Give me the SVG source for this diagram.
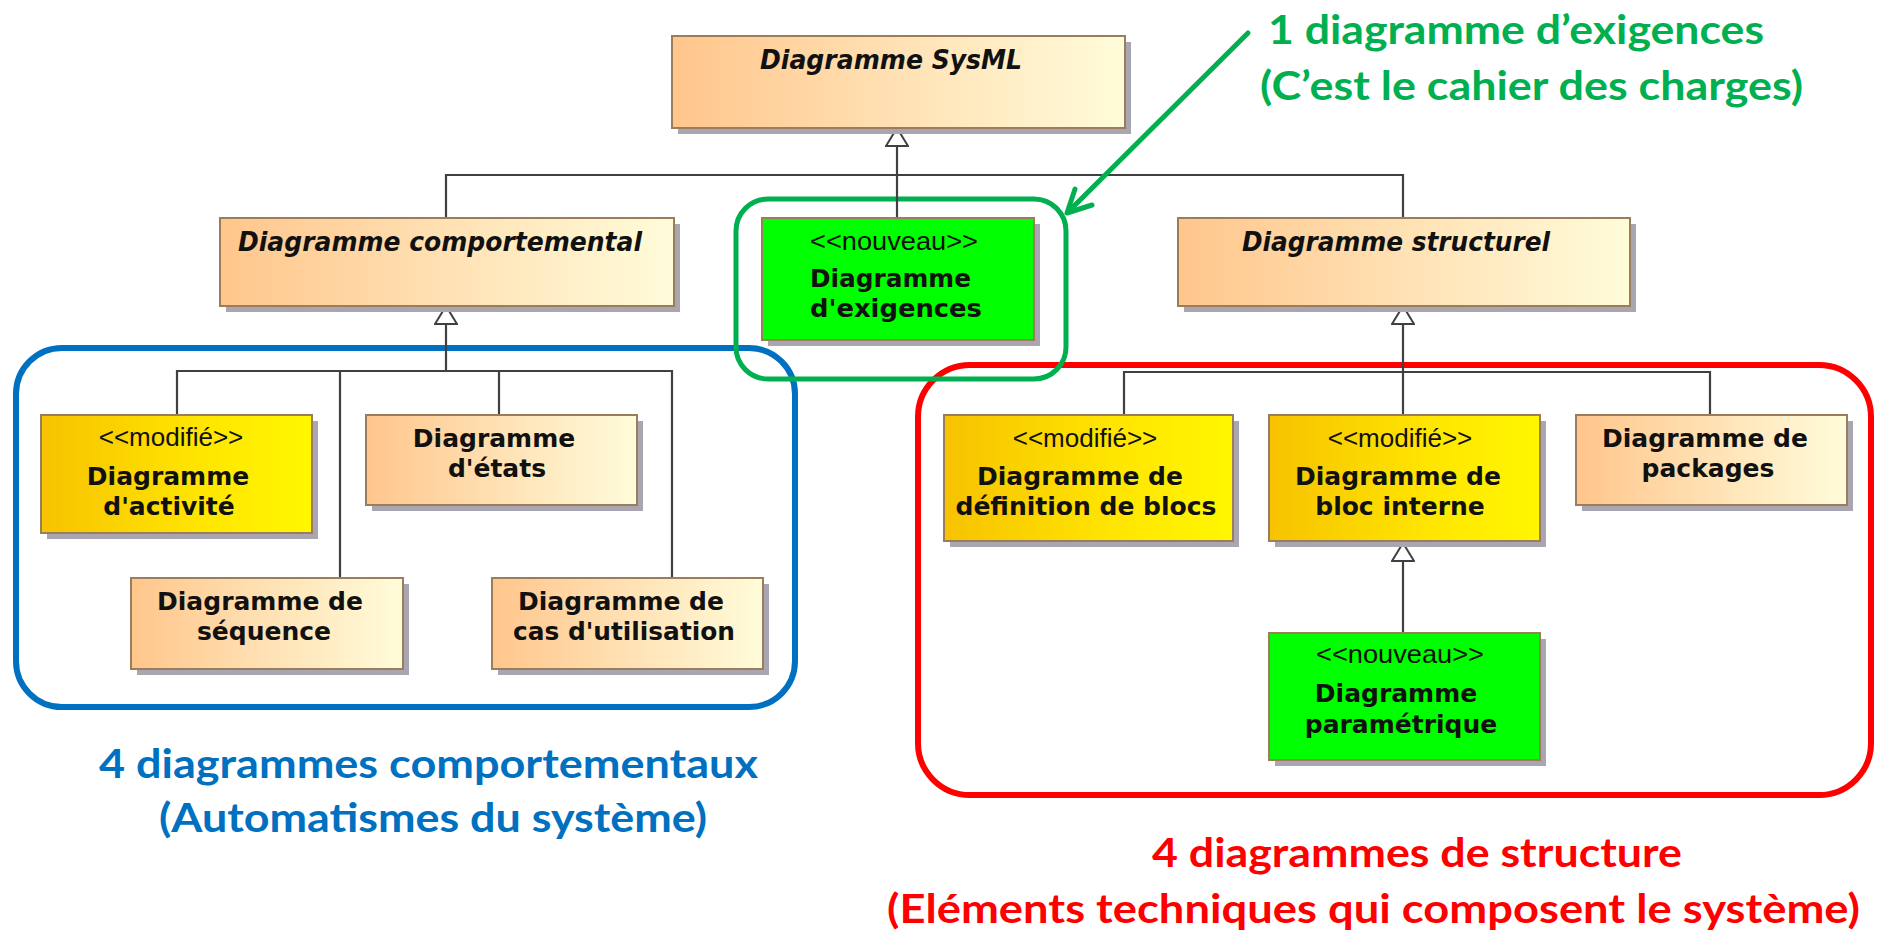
<svg xmlns="http://www.w3.org/2000/svg" width="1877" height="935" viewBox="0 0 1877 935">
  <defs>
    <linearGradient id="peach" x1="0" y1="0" x2="1" y2="0">
      <stop offset="0" stop-color="#FFC68C"/>
      <stop offset="0.55" stop-color="#FFE4B8"/>
      <stop offset="1" stop-color="#FFFCDA"/>
    </linearGradient>
    <linearGradient id="gold" x1="0" y1="0" x2="1" y2="0">
      <stop offset="0" stop-color="#F7C200"/>
      <stop offset="0.6" stop-color="#FFE600"/>
      <stop offset="1" stop-color="#FFF700"/>
    </linearGradient>
    <!-- hollow triangle for generalization links -->
    <marker id="gen" markerUnits="userSpaceOnUse" viewBox="-1 -1 20 24" refX="18" refY="11" markerWidth="20" markerHeight="24" orient="auto">
      <path d="M18,11 L0,0 L0,22 Z" fill="#FFFFFF" stroke="#404040" stroke-width="2" stroke-linejoin="miter"/>
    </marker>
  </defs>
  <style>
    .shadow { fill: #A9A6B2; }
    .box { stroke: #9A7E5C; stroke-width: 2; }
    .peach { fill: url(#peach); }
    .gold { fill: url(#gold); }
    .lime { fill: #00FF00; }
    .abstract { font-family: "DejaVu Sans", "Liberation Sans", sans-serif; font-weight: bold; font-style: italic; font-size: 27px; fill: #111111; text-anchor: middle; }
    .label { font-family: "DejaVu Sans", "Liberation Sans", sans-serif; font-weight: bold; font-size: 25px; fill: #111111; text-anchor: middle; }
    .stereo { font-family: "Liberation Sans", Arial, sans-serif; font-size: 26px; fill: #111111; text-anchor: middle; }
    .link { fill: none; stroke: #404040; stroke-width: 2.2; }
    .frame { fill: none; }
    .note { font-family: Lato, "Open Sans", "Liberation Sans", sans-serif; font-weight: bold; font-size: 40px; }
  </style>

  <rect width="1877" height="935" fill="#FFFFFF"/>

  <!-- grouping frames -->
  <g id="frames">
    <rect class="frame" x="16" y="348" width="779" height="359" rx="46" stroke="#0070C0" stroke-width="6"/>
    <rect class="frame" x="918" y="365" width="953" height="430" rx="52" stroke="#FF0000" stroke-width="6"/>
    <rect class="frame" x="736" y="199" width="330" height="180" rx="32" stroke="#00B050" stroke-width="5"/>
  </g>

  <!-- generalization links -->
  <g id="connectors">
    <path class="link" d="M446,218 V175 H1403 V218"/>
    <path class="link" d="M897,218 V128" marker-end="url(#gen)"/>
    <path class="link" d="M177,415 V371 H672 V578 M340,371 V578 M499,371 V415"/>
    <path class="link" d="M446,371 V306" marker-end="url(#gen)"/>
    <path class="link" d="M1124,415 V372 H1710 V415"/>
    <path class="link" d="M1403,415 V306" marker-end="url(#gen)"/>
    <path class="link" d="M1403,633 V543" marker-end="url(#gen)"/>
    <!-- callout arrow to the requirements diagram -->
    <path d="M1248,33 L1068,212" fill="none" stroke="#00B050" stroke-width="5" stroke-linecap="round"/>
    <path d="M1075,189 L1067,213 L1092,205" fill="none" stroke="#00B050" stroke-width="5" stroke-linecap="round" stroke-linejoin="round"/>
  </g>

  <g id="sysml">
    <rect class="shadow" x="678" y="42" width="453" height="92"/>
    <rect class="box peach" x="672" y="36" width="453" height="92"/>
    <text class="abstract" x="891" y="69" textLength="262" lengthAdjust="spacingAndGlyphs">Diagramme SysML</text>
  </g>

  <g id="comportemental">
    <rect class="shadow" x="226" y="224" width="454" height="88"/>
    <rect class="box peach" x="220" y="218" width="454" height="88"/>
    <text class="abstract" x="440" y="251" textLength="404" lengthAdjust="spacingAndGlyphs">Diagramme comportemental</text>
  </g>

  <g id="exigences">
    <rect class="shadow" x="768" y="224" width="272" height="122"/>
    <rect class="box lime" x="762" y="218" width="272" height="122"/>
    <text class="stereo" x="894" y="250" textLength="168" lengthAdjust="spacingAndGlyphs">&lt;&lt;nouveau&gt;&gt;</text>
    <text class="label" x="810" y="287" style="text-anchor:start" textLength="161" lengthAdjust="spacingAndGlyphs">Diagramme</text>
    <text class="label" x="810" y="317" style="text-anchor:start" textLength="172" lengthAdjust="spacingAndGlyphs">d'exigences</text>
  </g>

  <g id="structurel">
    <rect class="shadow" x="1184" y="224" width="452" height="88"/>
    <rect class="box peach" x="1178" y="218" width="452" height="88"/>
    <text class="abstract" x="1396" y="251" textLength="308" lengthAdjust="spacingAndGlyphs">Diagramme structurel</text>
  </g>

  <g id="activite">
    <rect class="shadow" x="47" y="421" width="271" height="118"/>
    <rect class="box gold" x="41" y="415" width="271" height="118"/>
    <text class="stereo" x="171" y="446">&lt;&lt;modifié&gt;&gt;</text>
    <text class="label" x="168" y="485">Diagramme</text>
    <text class="label" x="169" y="515">d'activité</text>
  </g>

  <g id="etats">
    <rect class="shadow" x="372" y="421" width="271" height="90"/>
    <rect class="box peach" x="366" y="415" width="271" height="90"/>
    <text class="label" x="494" y="447">Diagramme</text>
    <text class="label" x="497" y="477">d'états</text>
  </g>

  <g id="sequence">
    <rect class="shadow" x="137" y="584" width="272" height="91"/>
    <rect class="box peach" x="131" y="578" width="272" height="91"/>
    <text class="label" x="260" y="610">Diagramme de</text>
    <text class="label" x="264" y="640">séquence</text>
  </g>

  <g id="cas-utilisation">
    <rect class="shadow" x="498" y="584" width="271" height="91"/>
    <rect class="box peach" x="492" y="578" width="271" height="91"/>
    <text class="label" x="621" y="610">Diagramme de</text>
    <text class="label" x="624" y="640" textLength="222" lengthAdjust="spacingAndGlyphs">cas d'utilisation</text>
  </g>

  <g id="definition-blocs">
    <rect class="shadow" x="950" y="421" width="289" height="126"/>
    <rect class="box gold" x="944" y="415" width="289" height="126"/>
    <text class="stereo" x="1085" y="447">&lt;&lt;modifié&gt;&gt;</text>
    <text class="label" x="1080" y="485">Diagramme de</text>
    <text class="label" x="1086" y="515" textLength="261" lengthAdjust="spacingAndGlyphs">définition de blocs</text>
  </g>

  <g id="bloc-interne">
    <rect class="shadow" x="1275" y="421" width="271" height="126"/>
    <rect class="box gold" x="1269" y="415" width="271" height="126"/>
    <text class="stereo" x="1400" y="447">&lt;&lt;modifié&gt;&gt;</text>
    <text class="label" x="1398" y="485">Diagramme de</text>
    <text class="label" x="1400" y="515">bloc interne</text>
  </g>

  <g id="packages">
    <rect class="shadow" x="1582" y="421" width="271" height="90"/>
    <rect class="box peach" x="1576" y="415" width="271" height="90"/>
    <text class="label" x="1705" y="447">Diagramme de</text>
    <text class="label" x="1708" y="477">packages</text>
  </g>

  <g id="parametrique">
    <rect class="shadow" x="1275" y="639" width="271" height="127"/>
    <rect class="box lime" x="1269" y="633" width="271" height="127"/>
    <text class="stereo" x="1400" y="663" textLength="168" lengthAdjust="spacingAndGlyphs">&lt;&lt;nouveau&gt;&gt;</text>
    <text class="label" x="1396" y="702">Diagramme</text>
    <text class="label" x="1401" y="733">paramétrique</text>
  </g>

  <!-- group captions -->
  <g id="caption-exigences" class="note" fill="#00B050">
    <text x="1268" y="44" textLength="496" lengthAdjust="spacingAndGlyphs">1 diagramme d’exigences</text>
    <text x="1260" y="100" textLength="543" lengthAdjust="spacingAndGlyphs">(C’est le cahier des charges)</text>
  </g>
  <g id="caption-comportement" class="note" fill="#0070C0">
    <text x="99" y="778" textLength="659" lengthAdjust="spacingAndGlyphs">4 diagrammes comportementaux</text>
    <text x="159" y="832" textLength="548" lengthAdjust="spacingAndGlyphs">(Automatismes du système)</text>
  </g>
  <g id="caption-structure" class="note" fill="#FF0000">
    <text x="1152" y="867" textLength="530" lengthAdjust="spacingAndGlyphs">4 diagrammes de structure</text>
    <text x="887" y="923" textLength="973" lengthAdjust="spacingAndGlyphs">(Eléments techniques qui composent le système)</text>
  </g>
</svg>
